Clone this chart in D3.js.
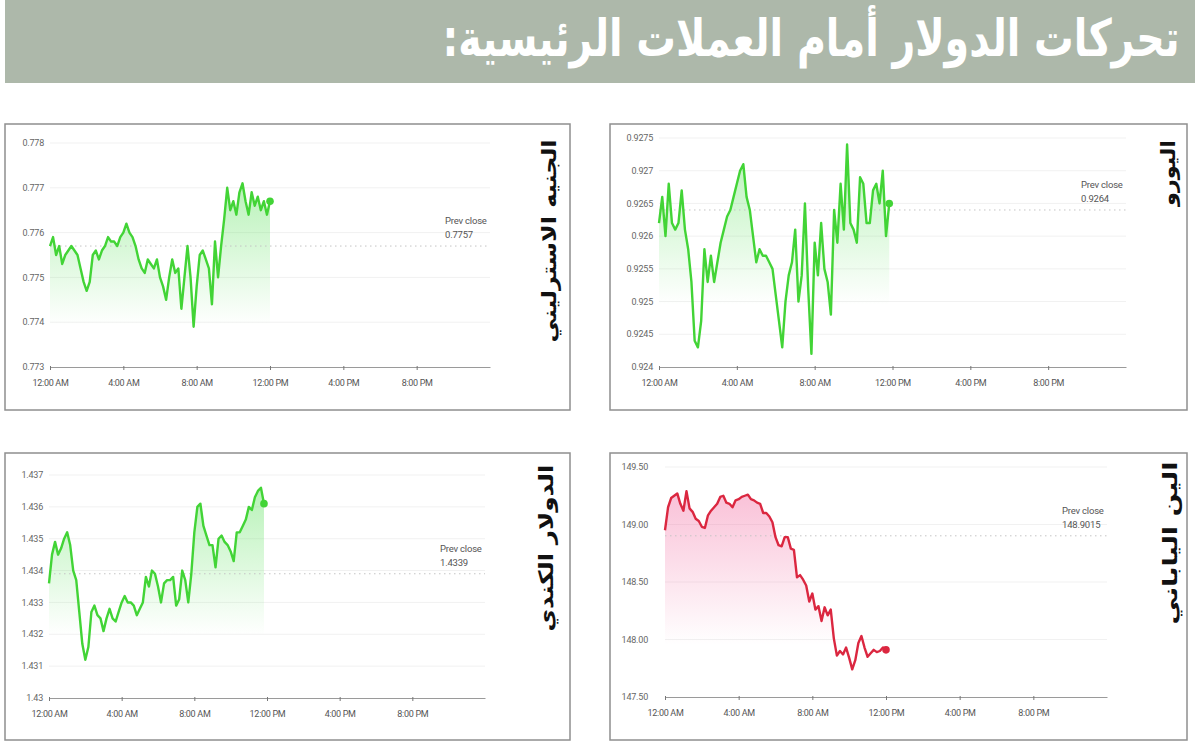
<!DOCTYPE html>
<html>
<head>
<meta charset="utf-8">
<script src="https://cdn.jsdelivr.net/npm/d3@7"></script>
<style>
  body { margin: 0; background: #fff; }
  svg { display: block; }
</style>
</head>
<body>
<svg width="1200" height="748"></svg>
<script>
var svg = d3.select('svg');

var title = 'تحركات الدولار أمام العملات الرئيسية:';

// shared time axis (hours after midnight)
var xTicks = [0, 4, 8, 12, 16, 20];
var xTickLabels = ['12:00 AM', '4:00 AM', '8:00 AM', '12:00 PM', '4:00 PM', '8:00 PM'];
var stepMinutes = 10;

// GBP
var gbpName = 'الجنيه الاسترليني';
var gbpValues = [0.7757, 0.7759, 0.7755, 0.7757, 0.7753, 0.7755, 0.7756, 0.7757, 0.7756, 0.7755,
  0.7752, 0.7749, 0.7747, 0.7749, 0.7755, 0.7756, 0.7754, 0.7756, 0.7757, 0.7759,
  0.7758, 0.7758, 0.7757, 0.7759, 0.7760, 0.7762, 0.7760, 0.7759, 0.7757, 0.7754,
  0.7752, 0.7751, 0.7754, 0.7753, 0.7752, 0.7754, 0.7750, 0.7748, 0.7745, 0.7750,
  0.7754, 0.7751, 0.7752, 0.7743, 0.7750, 0.7757, 0.7750, 0.7739, 0.7748, 0.7755,
  0.7756, 0.7754, 0.7752, 0.7744, 0.7758, 0.7750, 0.7757, 0.7763, 0.7770, 0.7765,
  0.7767, 0.7764, 0.7769, 0.7771, 0.7767, 0.7764, 0.7769, 0.7766, 0.7768, 0.7765,
  0.7767, 0.7764, 0.7767];
var gbpTicks = [0.773, 0.774, 0.775, 0.776, 0.777, 0.778];
var gbpTickLabels = ['0.773', '0.774', '0.775', '0.776', '0.777', '0.778'];
var gbpPrev = 0.7757;
var gbpPrevLabel = '0.7757';

// EUR
var eurName = 'اليورو';
var eurValues = [0.9262, 0.9266, 0.9260, 0.9268, 0.9262, 0.9261, 0.9262, 0.9267, 0.9261, 0.9258,
  0.9253, 0.9244, 0.9243, 0.9247, 0.9258, 0.9253, 0.9257, 0.9253, 0.9256, 0.9259,
  0.9261, 0.9263, 0.9264, 0.9266, 0.9268, 0.9270, 0.9271, 0.9266, 0.9264, 0.9260,
  0.9256, 0.9258, 0.9257, 0.9257, 0.9256, 0.9255, 0.9251, 0.9247, 0.9243, 0.9250,
  0.9254, 0.9256, 0.9261, 0.9250, 0.9254, 0.9265, 0.9252, 0.9242, 0.9259, 0.9254,
  0.9262, 0.9255, 0.9253, 0.9248, 0.9264, 0.9259, 0.9268, 0.9261, 0.9274, 0.9262,
  0.9261, 0.9259, 0.9269, 0.9268, 0.9262, 0.9262, 0.9267, 0.9268, 0.9265, 0.9270,
  0.9260, 0.9265];
var eurTicks = [0.924, 0.9245, 0.925, 0.9255, 0.926, 0.9265, 0.927, 0.9275];
var eurTickLabels = ['0.924', '0.9245', '0.925', '0.9255', '0.926', '0.9265', '0.927', '0.9275'];
var eurPrev = 0.9264;
var eurPrevLabel = '0.9264';

// CAD
var cadName = 'الدولار الكندي';
var cadValues = [1.4336, 1.4345, 1.4349, 1.4345, 1.4347, 1.4350, 1.4352, 1.4348, 1.4340, 1.4337,
  1.4327, 1.4317, 1.4312, 1.4316, 1.4327, 1.4329, 1.4326, 1.4325, 1.4321, 1.4325,
  1.4328, 1.4325, 1.4324, 1.4327, 1.4330, 1.4332, 1.4330, 1.4330, 1.4329, 1.4326,
  1.4328, 1.4330, 1.4338, 1.4335, 1.4340, 1.4339, 1.4335, 1.4330, 1.4336, 1.4337,
  1.4337, 1.4338, 1.4329, 1.4331, 1.4340, 1.4337, 1.4330, 1.4339, 1.4352, 1.4360,
  1.4361, 1.4354, 1.4351, 1.4348, 1.4348, 1.4341, 1.4350, 1.4351, 1.4349, 1.4348,
  1.4346, 1.4343, 1.4352, 1.4352, 1.4354, 1.4356, 1.4360, 1.4359, 1.4363, 1.4365,
  1.4366, 1.4361];
var cadTicks = [1.430, 1.431, 1.432, 1.433, 1.434, 1.435, 1.436, 1.437];
var cadTickLabels = ['1.43', '1.431', '1.432', '1.433', '1.434', '1.435', '1.436', '1.437'];
var cadPrev = 1.4339;
var cadPrevLabel = '1.4339';

// JPY
var jpyName = 'الين الياباني';
var jpyValues = [148.95, 149.15, 149.23, 149.25, 149.27, 149.18, 149.12, 149.29, 149.14, 149.11,
  149.05, 149.03, 148.98, 148.97, 149.08, 149.12, 149.15, 149.18, 149.24, 149.25,
  149.19, 149.18, 149.15, 149.21, 149.22, 149.24, 149.25, 149.26, 149.22, 149.21,
  149.19, 149.18, 149.10, 149.10, 149.07, 149.02, 148.89, 148.82, 148.81, 148.89,
  148.89, 148.79, 148.78, 148.54, 148.56, 148.52, 148.47, 148.33, 148.40, 148.26,
  148.29, 148.16, 148.28, 148.21, 148.26, 148.01, 147.86, 147.90, 147.87, 147.93,
  147.84, 147.74, 147.82, 147.97, 148.03, 147.93, 147.85, 147.88, 147.91, 147.89,
  147.90, 147.93, 147.91];
var jpyTicks = [147.5, 148.0, 148.5, 149.0, 149.5];
var jpyTickLabels = ['147.50', '148.00', '148.50', '149.00', '149.50'];
var jpyPrev = 148.9015;
var jpyPrevLabel = '148.9015';

var green = { line: '#42d436', fill: '#55e055' };
var red = { line: '#db2740', fill: '#f26aa0' };

var panels = [
  { id: 'gbp', name: gbpName, values: gbpValues, ticks: gbpTicks, tickLabels: gbpTickLabels,
    prev: gbpPrev, prevLabel: gbpPrevLabel, color: green,
    box: [5, 124, 565, 286], xr: [50, 490], yr: [367, 143], labelX: 44, fillEnd: 325,
    nameX: 549, nameY: 241, nameLen: 203 },
  { id: 'eur', name: eurName, values: eurValues, ticks: eurTicks, tickLabels: eurTickLabels,
    prev: eurPrev, prevLabel: eurPrevLabel, color: green,
    box: [610, 124, 577, 286], xr: [659, 1126], yr: [367, 138], labelX: 653, fillEnd: 305,
    nameX: 1168, nameY: 173, nameLen: 66 },
  { id: 'cad', name: cadName, values: cadValues, ticks: cadTicks, tickLabels: cadTickLabels,
    prev: cadPrev, prevLabel: cadPrevLabel, color: green,
    box: [5, 453, 565, 287], xr: [49, 485], yr: [698, 475], labelX: 43, fillEnd: 635,
    nameX: 546, nameY: 548, nameLen: 167 },
  { id: 'jpy', name: jpyName, values: jpyValues, ticks: jpyTicks, tickLabels: jpyTickLabels,
    prev: jpyPrev, prevLabel: jpyPrevLabel, color: red,
    box: [610, 453, 577, 287], xr: [665, 1107], yr: [697, 467], labelX: 648, fillEnd: 645,
    nameX: 1170, nameY: 543, nameLen: 163 }
];

// header band
svg.append('rect')
  .attr('x', 5).attr('y', 0)
  .attr('width', 1190).attr('height', 83)
  .attr('fill', '#adb8aa');

// title: smaller font stretched vertically so its natural width stays inside the band
svg.append('text')
  .attr('transform', 'translate(811,56) scale(1,1.35)')
  .attr('text-anchor', 'middle')
  .attr('direction', 'rtl')
  .attr('font-family', 'DejaVu Sans')
  .attr('font-weight', 'bold')
  .attr('font-size', 38)
  .attr('fill', '#fff')
  .attr('textLength', 737)
  .attr('lengthAdjust', 'spacingAndGlyphs')
  .text(title);

var defs = svg.append('defs');

panels.forEach(function(p) {
  var g = svg.append('g').attr('class', 'panel ' + p.id);

  g.append('rect')
    .attr('x', p.box[0]).attr('y', p.box[1])
    .attr('width', p.box[2]).attr('height', p.box[3])
    .attr('fill', '#fff')
    .attr('stroke', '#8f8f8f')
    .attr('stroke-width', 1.5);

  var x = d3.scaleLinear().domain([0, 24]).range(p.xr);
  var y = d3.scaleLinear().domain([p.ticks[0], p.ticks[p.ticks.length - 1]]).range(p.yr);

  var data = p.values.map(function(v, i) {
    return { t: i * stepMinutes / 60, v: v };
  });

  // faint grid
  g.append('g')
    .selectAll('line')
    .data(p.ticks.slice(1))
    .enter()
    .append('line')
    .attr('x1', p.xr[0]).attr('x2', p.xr[1])
    .attr('y1', function(d) { return y(d); })
    .attr('y2', function(d) { return y(d); })
    .attr('stroke', '#f1f1f1')
    .attr('stroke-width', 1);

  // y labels
  g.append('g')
    .selectAll('text')
    .data(p.ticks)
    .enter()
    .append('text')
    .attr('x', p.labelX)
    .attr('y', function(d) { return y(d); })
    .attr('dy', '0.35em')
    .attr('text-anchor', 'end')
    .attr('font-family', 'Roboto')
    .attr('font-size', 9)
    .attr('letter-spacing', -0.2)
    .attr('fill', '#666')
    .text(function(d, i) { return p.tickLabels[i]; });

  // x axis
  var xAxis = d3.axisBottom(x)
    .tickValues(xTicks)
    .tickFormat(function(d, i) { return xTickLabels[i]; })
    .tickSizeInner(3)
    .tickSizeOuter(0)
    .tickPadding(10);

  var ax = g.append('g')
    .attr('transform', 'translate(0,' + p.yr[0] + ')')
    .call(xAxis);
  ax.select('.domain').attr('stroke', '#9a9a9a');
  ax.selectAll('.tick line').attr('stroke', '#777').attr('y1', -1).attr('y2', 3);
  ax.selectAll('.tick text')
    .attr('font-family', 'Roboto')
    .attr('font-size', 9)
    .attr('letter-spacing', -0.3)
    .attr('fill', '#555');

  // gradient fill under the line
  var gradId = 'grad-' + p.id;
  var vmax = d3.max(p.values);
  var grad = defs.append('linearGradient')
    .attr('id', gradId)
    .attr('gradientUnits', 'userSpaceOnUse')
    .attr('x1', 0).attr('x2', 0)
    .attr('y1', y(vmax)).attr('y2', p.fillEnd);
  grad.append('stop').attr('offset', '0%').attr('stop-color', p.color.fill).attr('stop-opacity', 0.42);
  grad.append('stop').attr('offset', '100%').attr('stop-color', p.color.fill).attr('stop-opacity', 0);

  var area = d3.area()
    .x(function(d) { return x(d.t); })
    .y0(p.yr[0])
    .y1(function(d) { return y(d.v); });

  g.append('path')
    .datum(data)
    .attr('d', area)
    .attr('fill', 'url(#' + gradId + ')');

  // prev close
  g.append('line')
    .attr('x1', p.xr[0]).attr('x2', p.xr[1])
    .attr('y1', y(p.prev)).attr('y2', y(p.prev))
    .attr('stroke', '#c4c4c4')
    .attr('stroke-width', 1)
    .attr('stroke-dasharray', '1.5,3.5');

  g.append('text')
    .attr('x', p.xr[1] - 45)
    .attr('y', y(p.prev) - 22)
    .attr('font-family', 'Roboto')
    .attr('font-size', 9.5)
    .attr('letter-spacing', -0.2)
    .attr('fill', '#555')
    .text('Prev close');

  g.append('text')
    .attr('x', p.xr[1] - 45)
    .attr('y', y(p.prev) - 8)
    .attr('font-family', 'Roboto')
    .attr('font-size', 9.5)
    .attr('letter-spacing', -0.2)
    .attr('fill', '#555')
    .text(p.prevLabel);

  // price line
  var line = d3.line()
    .x(function(d) { return x(d.t); })
    .y(function(d) { return y(d.v); });

  g.append('path')
    .datum(data)
    .attr('d', line)
    .attr('fill', 'none')
    .attr('stroke', p.color.line)
    .attr('stroke-width', 2.4)
    .attr('stroke-linejoin', 'round');

  var last = data[data.length - 1];
  g.append('circle')
    .attr('cx', x(last.t))
    .attr('cy', y(last.v))
    .attr('r', 3.8)
    .attr('fill', p.color.line);

  // currency name, vertical
  g.append('text')
    .attr('transform', 'translate(' + p.nameX + ',' + p.nameY + ') rotate(-90)')
    .attr('text-anchor', 'middle')
    .attr('direction', 'rtl')
    .attr('dy', '0.35em')
    .attr('font-family', 'DejaVu Sans')
    .attr('font-weight', 'bold')
    .attr('font-size', 20)
    .attr('fill', '#111')
    .attr('textLength', p.nameLen)
    .attr('lengthAdjust', 'spacingAndGlyphs')
    .text(p.name);
});
</script>
</body>
</html>
